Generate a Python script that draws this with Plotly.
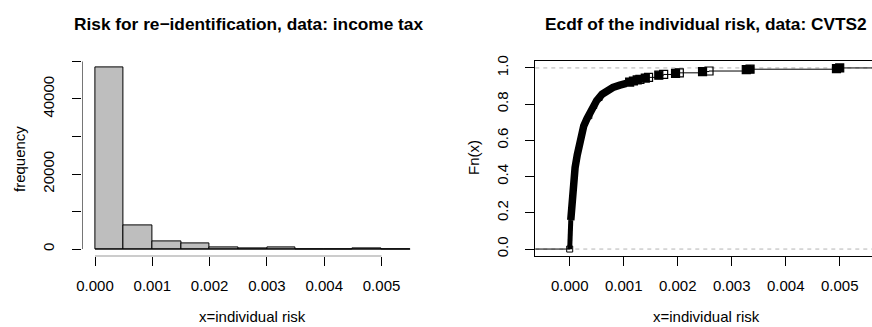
import plotly.graph_objects as go

# ---- Histogram of the individual re-identification risk (income tax data) ----
bin_edges = [0.0, 0.0005, 0.001, 0.0015, 0.002, 0.0025, 0.003, 0.0035, 0.004, 0.0045, 0.005, 0.0055]
bin_counts = [48350, 6210, 2050, 1420, 560, 80, 480, 0, 0, 250, 0]
hist_xticks = [0.000, 0.001, 0.002, 0.003, 0.004, 0.005]
hist_yticks = [0, 10000, 20000, 30000, 40000, 50000]
hist_ylabels = ["0", "", "20000", "", "40000", ""]

# ---- Ecdf of the individual risk (CVTS2 data) ----
# densely packed low-risk values
ecdf_dense_x = [0.00000, 0.000005, 0.00001, 0.00002, 0.00003, 0.00005, 0.00007, 0.00010,
                0.00014, 0.00018, 0.00021, 0.00026, 0.00032, 0.00041, 0.00050, 0.00060,
                0.00070, 0.00080, 0.00093, 0.00105]
ecdf_dense_f = [0.000, 0.050, 0.100, 0.160, 0.220, 0.310, 0.380, 0.450,
                0.520, 0.580, 0.630, 0.680, 0.720, 0.776, 0.820, 0.855,
                0.875, 0.892, 0.905, 0.915]
# isolated higher-risk values
ecdf_point_x = [0.00111, 0.00118, 0.00125, 0.00130, 0.00140, 0.00146, 0.00165, 0.00174,
                0.00196, 0.00203, 0.00246, 0.00258, 0.00327, 0.00334, 0.00494, 0.00500]
ecdf_point_f = [0.922, 0.928, 0.934, 0.937, 0.944, 0.948, 0.960, 0.964,
                0.970, 0.973, 0.980, 0.983, 0.991, 0.993, 0.996, 1.000]
ecdf_point_filled = [True, True, True, False, True, False, True, False,
                     True, False, True, False, True, True, True, True]
ecdf_xticks = [0.000, 0.001, 0.002, 0.003, 0.004, 0.005]
ecdf_yticks = [0.0, 0.2, 0.4, 0.6, 0.8, 1.0]

W, H = 872, 327
FONT = "Liberation Sans, Arial, Helvetica, sans-serif"
TICK_SIZE = 15


def extend(lo, hi, frac=0.04):
    d = (hi - lo) * frac
    return [lo - d, hi + d]


def px_x(p):
    return p / W


def px_y(p):
    return 1 - p / H


hist_xrange = extend(bin_edges[0], bin_edges[-1])
hist_yrange = extend(0, max(bin_counts))
ecdf_yrange = extend(0.0, 1.0)
ecdf_xrange = [-0.000637, 0.005598]

fig = go.Figure()

# histogram bars
mids = [(a + b) / 2 for a, b in zip(bin_edges[:-1], bin_edges[1:])]
widths = [b - a for a, b in zip(bin_edges[:-1], bin_edges[1:])]
fig.add_trace(go.Bar(
    x=mids, y=bin_counts, width=widths,
    marker=dict(color="#BEBEBE", line=dict(color="black", width=1)),
    xaxis="x", yaxis="y", hoverinfo="x+y",
))
# bar baseline (covers empty bins)
fig.add_trace(go.Scatter(
    x=[bin_edges[0], bin_edges[-1]], y=[0, 0], mode="lines",
    line=dict(color="black", width=1), xaxis="x", yaxis="y", hoverinfo="skip",
))
# axis lines spanning only the tick range, sitting on the plot-region edge
fig.add_trace(go.Scatter(
    x=[hist_xticks[0], hist_xticks[-1]], y=[hist_yrange[0]] * 2, mode="lines",
    line=dict(color="black", width=1), cliponaxis=False,
    xaxis="x", yaxis="y", hoverinfo="skip",
))
fig.add_trace(go.Scatter(
    x=[hist_xrange[0]] * 2, y=[hist_yticks[0], hist_yticks[-1]], mode="lines",
    line=dict(color="black", width=1), cliponaxis=False,
    xaxis="x", yaxis="y", hoverinfo="skip",
))

# ecdf step line, extended past both plot limits as a step function plot does
all_x = ecdf_dense_x + ecdf_point_x
all_f = ecdf_dense_f + ecdf_point_f
dr = 0.08 * (max(all_x) - min(all_x))
step_x = [min(all_x) - 2 * dr] + all_x + [max(all_x) + 2 * dr]
step_f = [0.0] + all_f + [all_f[-1]]
fig.add_trace(go.Scatter(
    x=step_x, y=step_f, mode="lines", line=dict(color="black", width=1, shape="hv"),
    xaxis="x2", yaxis="y2", hoverinfo="skip",
))

# dense part: points overlap into a solid band
split = 3
fig.add_trace(go.Scatter(
    x=ecdf_dense_x[:split + 1], y=ecdf_dense_f[:split + 1], mode="lines",
    line=dict(color="black", width=5),
    xaxis="x2", yaxis="y2", hoverinfo="skip",
))
fig.add_trace(go.Scatter(
    x=ecdf_dense_x[split:], y=ecdf_dense_f[split:], mode="lines",
    line=dict(color="black", width=7.5),
    xaxis="x2", yaxis="y2", hoverinfo="skip",
))
fig.add_trace(go.Scatter(
    x=ecdf_dense_x[:1], y=ecdf_dense_f[:1], mode="markers",
    marker=dict(symbol="square-open", size=6, color="black", line=dict(width=1)),
    xaxis="x2", yaxis="y2",
))
fig.add_trace(go.Scatter(
    x=ecdf_point_x, y=ecdf_point_f, mode="markers",
    marker=dict(symbol=["square" if f else "square-open" for f in ecdf_point_filled],
                size=8, color="black", line=dict(color="black", width=1.2)),
    xaxis="x2", yaxis="y2",
))

hist_dom_x = [px_x(82.4), px_x(422.8)]
hist_dom_y = [px_y(256.3), px_y(60.4)]

tickfont = dict(family=FONT, size=TICK_SIZE, color="black")
common = dict(showgrid=False, zeroline=False, ticks="outside", ticklen=9,
              tickcolor="black", tickwidth=1, tickfont=tickfont, fixedrange=True,
              automargin=False)

fig.update_layout(
    template="none",
    width=W, height=H,
    margin=dict(l=0, r=0, t=0, b=0, pad=0),
    paper_bgcolor="white", plot_bgcolor="white",
    bargap=0,
    xaxis=dict(domain=hist_dom_x, range=hist_xrange,
               tickvals=hist_xticks, ticktext=[f"{v:.3f}" for v in hist_xticks],
               showline=False, anchor="y", ticklabelstandoff=7, **common),
    yaxis=dict(domain=hist_dom_y, range=hist_yrange,
               tickvals=hist_yticks, ticktext=hist_ylabels, tickangle=-90,
               showline=False, anchor="x", ticklabelstandoff=12, **common),
    xaxis2=dict(domain=[px_x(535.3), 1.0], range=ecdf_xrange,
                tickvals=ecdf_xticks, ticktext=[f"{v:.3f}" for v in ecdf_xticks],
                showline=True, linecolor="black", linewidth=1, mirror=True,
                anchor="y2", ticklabelstandoff=7, **common),
    yaxis2=dict(domain=[px_y(256.3), px_y(60.7)], range=ecdf_yrange,
                tickvals=ecdf_yticks, ticktext=[f"{v:.1f}" for v in ecdf_yticks],
                tickangle=-90, showline=True, linecolor="black", linewidth=1,
                mirror=True, anchor="x2", ticklabelstandoff=11, **common),
    font=dict(family=FONT, color="black"),
    showlegend=False,
)

# reference lines at 0 and 1 in the ecdf panel
for level in (0.0, 1.0):
    fig.add_shape(type="line", xref="x2 domain", yref="y2", x0=0, x1=1, y0=level, y1=level,
                  line=dict(color="#B3B3B3", width=1, dash="4px,4px"), layer="below")

title_font = dict(family=FONT, size=17.3, color="black", weight="bold")
label_font = dict(family=FONT, size=TICK_SIZE, color="black")
ann = [
    dict(text="<b>Risk for re\u2212identification, data: income tax</b>", x=px_x(248.3), y=px_y(24),
         yanchor="middle", font=title_font),
    dict(text="<b>Ecdf of the individual risk, data: CVTS2</b>", x=px_x(706), y=px_y(24),
         yanchor="middle", font=title_font),
    dict(text="x=individual risk", x=px_x(252), y=0, yanchor="bottom", font=label_font),
    dict(text="x=individual risk", x=px_x(706), y=0, yanchor="bottom", font=label_font),
    dict(text="frequency", x=px_x(19), y=px_y(159), yanchor="middle", font=label_font,
         textangle=-90),
    dict(text="Fn(x)", x=px_x(473), y=px_y(158), yanchor="middle", font=label_font,
         textangle=-90),
]
for a in ann:
    fig.add_annotation(xref="paper", yref="paper", showarrow=False, xanchor="center", **a)

fig.write_html("out.html")
